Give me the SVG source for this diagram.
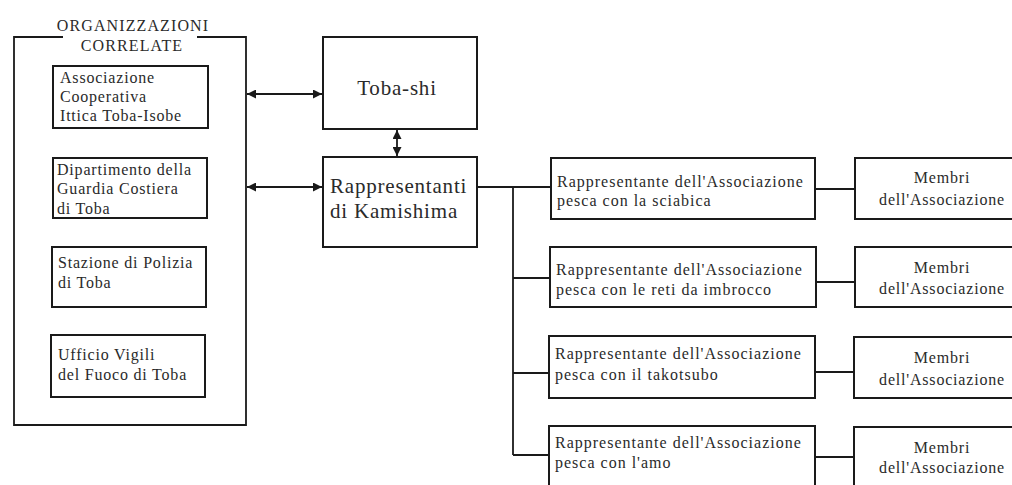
<svg xmlns="http://www.w3.org/2000/svg" width="1012" height="485" viewBox="0 0 1012 485">
<style>
.box{fill:#fff;stroke:#1a1a1a;stroke-width:2}
.t{font-family:"Liberation Serif","Times New Roman",serif;fill:#2a2a2a}
.s{font-size:16px;letter-spacing:0.8px}
.r{font-size:16px;letter-spacing:1px}
.m{font-size:16px;letter-spacing:0.8px}
.big{font-size:21px;letter-spacing:0.8px}
.ttl{font-size:16px;letter-spacing:1.1px}
.c{text-anchor:middle}
.ln{fill:none;stroke:#1a1a1a;stroke-width:1.8}
</style>
<defs>
<marker id="ah" viewBox="0 0 10 10" refX="10" refY="5" markerWidth="10" markerHeight="9" markerUnits="userSpaceOnUse" orient="auto-start-reverse">
<path d="M0,0 L10,5 L0,10 z" fill="#1a1a1a"/>
</marker>
</defs>
<rect width="1012" height="485" fill="#fff"/>

<g id="organizzazioni">
<path class="ln" d="M63,37 H14 V425 H246 V37 H197" stroke-width="2"/>
<text class="t ttl c" x="133" y="31">ORGANIZZAZIONI</text>
<text class="t ttl c" x="132" y="51">CORRELATE</text>
</g>
<g id="assoc-coop">
<rect class="box" x="53" y="66" width="155" height="62"/>
<text class="t s" x="60" y="83">Associazione</text>
<text class="t s" x="60" y="102">Cooperativa</text>
<text class="t s" x="60" y="121">Ittica Toba-Isobe</text>
</g>
<g id="guardia-costiera">
<rect class="box" x="53" y="158" width="154" height="60"/>
<text class="t s" x="57" y="175">Dipartimento della</text>
<text class="t s" x="57" y="194">Guardia Costiera</text>
<text class="t s" x="57" y="214">di Toba</text>
</g>
<g id="polizia">
<rect class="box" x="52" y="247" width="154" height="60"/>
<text class="t s" x="58" y="268">Stazione di Polizia</text>
<text class="t s" x="58" y="288">di Toba</text>
</g>
<g id="vigili">
<rect class="box" x="51" y="335" width="154" height="62"/>
<text class="t s" x="58" y="360">Ufficio Vigili</text>
<text class="t s" x="58" y="380">del Fuoco di Toba</text>
</g>

<g id="toba-shi">
<rect class="box" x="323" y="37" width="154" height="92"/>
<text class="t big c" x="397" y="95">Toba-shi</text>
</g>
<g id="kamishima">
<rect class="box" x="323" y="157" width="154" height="90"/>
<text class="t big" x="330" y="193">Rappresentanti</text>
<text class="t big" x="330" y="218">di Kamishima</text>
</g>

<g id="rep-sciabica">
<rect class="box" x="551" y="158" width="264" height="61"/>
<text class="t r" x="557" y="187">Rappresentante dell'Associazione</text>
<text class="t r" x="557" y="206">pesca con la sciabica</text>
</g>
<g id="rep-imbrocco">
<rect class="box" x="550" y="247" width="266" height="60"/>
<text class="t r" x="556" y="275">Rappresentante dell'Associazione</text>
<text class="t r" x="556" y="295">pesca con le reti da imbrocco</text>
</g>
<g id="rep-takotsubo">
<rect class="box" x="549" y="336" width="266" height="62"/>
<text class="t r" x="555" y="359">Rappresentante dell'Associazione</text>
<text class="t r" x="555" y="380">pesca con il takotsubo</text>
</g>
<g id="rep-amo">
<rect class="box" x="549" y="426" width="266" height="64"/>
<text class="t r" x="555" y="448">Rappresentante dell'Associazione</text>
<text class="t r" x="555" y="468">pesca con l'amo</text>
</g>

<g id="membri-1">
<rect class="box" x="855" y="158" width="170" height="61"/>
<text class="t m c" x="942" y="183">Membri</text>
<text class="t m c" x="942" y="205">dell'Associazione</text>
</g>
<g id="membri-2">
<rect class="box" x="855" y="247" width="170" height="60"/>
<text class="t m c" x="942" y="273">Membri</text>
<text class="t m c" x="942" y="294">dell'Associazione</text>
</g>
<g id="membri-3">
<rect class="box" x="854" y="337" width="170" height="61"/>
<text class="t m c" x="942" y="363">Membri</text>
<text class="t m c" x="942" y="385">dell'Associazione</text>
</g>
<g id="membri-4">
<rect class="box" x="854" y="427" width="170" height="64"/>
<text class="t m c" x="942" y="453">Membri</text>
<text class="t m c" x="942" y="473">dell'Associazione</text>
</g>

<g id="connectors">
<line class="ln" x1="247" y1="94" x2="322" y2="94" marker-start="url(#ah)" marker-end="url(#ah)"/>
<line class="ln" x1="247" y1="187" x2="322" y2="187" marker-start="url(#ah)" marker-end="url(#ah)"/>
<line class="ln" x1="397" y1="130" x2="397" y2="156" marker-start="url(#ah)" marker-end="url(#ah)"/>
<path class="ln" d="M477,187 H551"/>
<path class="ln" d="M513,187 V455"/>
<path class="ln" d="M513,278 H550"/>
<path class="ln" d="M513,373 H549"/>
<path class="ln" d="M513,455 H549"/>
<path class="ln" d="M815,189 H855"/>
<path class="ln" d="M816,282 H855"/>
<path class="ln" d="M815,372 H854"/>
<path class="ln" d="M815,457 H854"/>
</g>
</svg>
